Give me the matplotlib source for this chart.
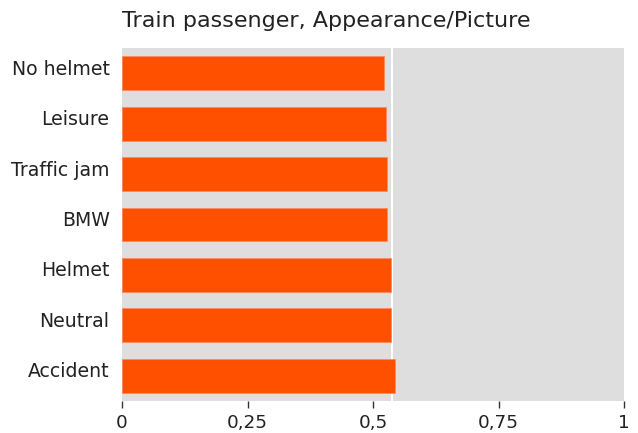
import matplotlib
matplotlib.use("Agg")
import matplotlib.pyplot as plt
import matplotlib.transforms as mtransforms

categories = ["No helmet", "Leisure", "Traffic jam", "BMW", "Helmet", "Neutral", "Accident"]
values = [0.521, 0.525, 0.527, 0.527, 0.536, 0.536, 0.544]
reference = 0.538
xticks = [0, 0.25, 0.5, 0.75, 1]
xticklabels = ["0", "0,25", "0,5", "0,75", "1"]
title = "Train passenger, Appearance/Picture"

plt.rcParams['font.family'] = ['DejaVu Sans']
fig = plt.figure(figsize=(6.38, 4.33), dpi=100)
ax = fig.add_axes([122/638, 1-401/433, 502/638, 353/433])
ax.set_facecolor("#dedede")
ypos = list(range(len(categories)))[::-1]
ax.barh(ypos, values, height=0.67, color="#ff5000", edgecolor="#ff8a5a", linewidth=0.6, zorder=2)
ax.axvline(reference, color="white", linewidth=1.5, zorder=1)
ax.set_xlim(0, 1)
ax.set_ylim(-0.5, len(categories)-0.5)
ax.set_yticks(ypos)
ax.set_yticklabels(categories, fontsize=13.6, color="#222222")
ax.set_xticks(xticks)
ax.set_xticklabels(xticklabels, fontsize=13.2, color="#222222")
ax.tick_params(axis='y', length=0, pad=9)
ax.tick_params(axis='x', length=5, width=1, color="#333333", pad=4)
offset = mtransforms.ScaledTranslation(0, 6/100, fig.dpi_scale_trans)
for lbl in ax.get_yticklabels():
    lbl.set_transform(lbl.get_transform() + offset)
for s in ax.spines.values():
    s.set_visible(False)
fig.text(122/638, 1-27/433, title, fontsize=16.0, color="#222222", va="baseline", ha="left")
fig.savefig("out.png", dpi=100)
